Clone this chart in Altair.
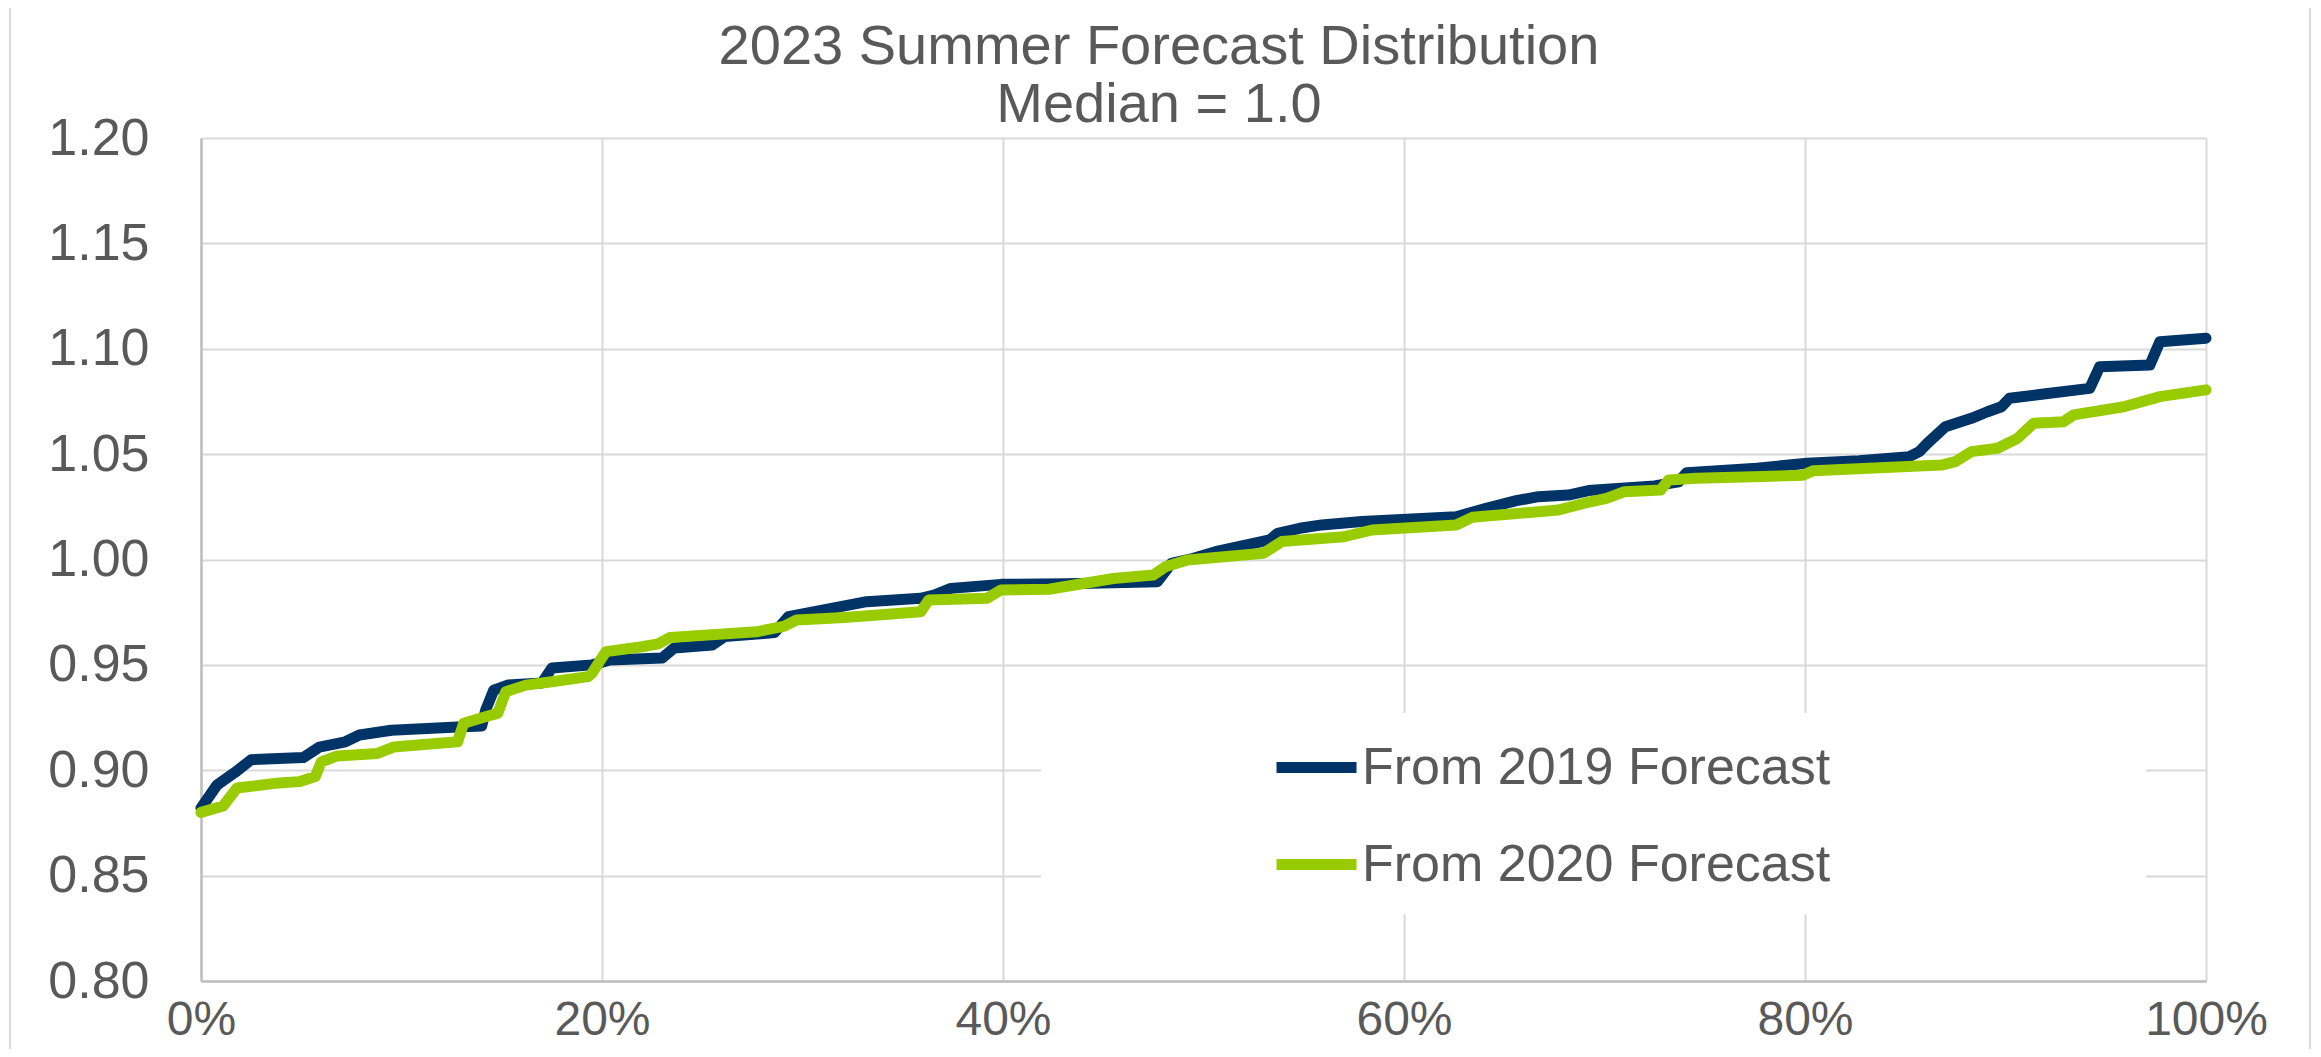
import altair as alt
import pandas as pd

# ---------------- data ----------------
series_names = ["From 2019 Forecast", "From 2020 Forecast"]
series_colors = ["#003366", "#99CC00"]

pct_2019 = [0.0, 0.8, 1.7, 2.5, 5.1, 5.9, 7.2, 7.9, 9.5, 12.8, 14.0, 14.2, 14.6,
            15.3, 17.0, 17.5, 19.5, 20.4, 23.0, 23.6, 25.5, 26.1, 28.6, 29.3,
            33.2, 35.9, 36.6, 37.4, 39.9, 43.2, 45.5, 47.7, 48.4, 49.5, 50.6,
            53.3, 53.7, 54.8, 55.9, 57.9, 59.9, 62.6, 64.1, 65.6, 66.7, 68.2,
            69.2, 72.5, 73.7, 74.1, 77.6, 80.1, 82.7, 85.2, 85.7, 86.1, 87.0,
            88.3, 89.1, 89.8, 90.2, 91.9, 94.2, 94.7, 97.2, 97.7, 100.0]
val_2019 = [0.882, 0.893, 0.899, 0.905, 0.906, 0.911, 0.9135, 0.9167, 0.919,
            0.9205, 0.921, 0.9286, 0.938, 0.9404, 0.9414, 0.9485, 0.950, 0.9523,
            0.9533, 0.958, 0.9594, 0.9634, 0.9653, 0.9729, 0.980, 0.9816, 0.9832,
            0.9863, 0.9882, 0.9885, 0.989, 0.9895, 0.9982, 1.0006, 1.0037,
            1.0093, 1.0124, 1.0148, 1.0164, 1.018, 1.019, 1.0203, 1.0243,
            1.0279, 1.0298, 1.0306, 1.0327, 1.0349, 1.0369, 1.0412, 1.0433,
            1.0457, 1.0469, 1.0488, 1.0512, 1.0551, 1.063, 1.067, 1.0701,
            1.0725, 1.0765, 1.0785, 1.0812, 1.0915, 1.0923, 1.1033, 1.105]

pct_2020 = [0.0, 1.1, 1.8, 3.9, 4.9, 5.7, 6.0, 6.8, 8.8, 9.6, 12.8, 13.1, 14.4,
            14.8, 15.2, 16.2, 17.5, 19.3, 19.5, 20.2, 22.0, 22.8, 23.4, 27.7,
            29.1, 29.7, 32.1, 35.9, 36.3, 39.2, 39.9, 42.3, 45.5, 47.5, 48.1,
            49.2, 53.0, 53.9, 57.0, 58.4, 62.6, 63.4, 67.7, 69.0, 70.1, 71.0,
            72.8, 73.2, 74.6, 79.9, 80.4, 86.8, 87.5, 88.3, 89.6, 90.6, 91.4,
            92.9, 93.4, 95.9, 97.7, 100.0]
val_2020 = [0.880, 0.883, 0.8916, 0.894, 0.8946, 0.897, 0.904, 0.9068, 0.908,
            0.911, 0.9135, 0.9223, 0.926, 0.927, 0.9373, 0.9404, 0.942, 0.9444,
            0.946, 0.9563, 0.9586, 0.960, 0.963, 0.9657, 0.9684, 0.9713, 0.9725,
            0.9752, 0.9808, 0.9816, 0.9855, 0.9859, 0.991, 0.9926, 0.9966,
            0.9998, 1.003, 1.0085, 1.0108, 1.014, 1.0164, 1.020, 1.0235, 1.0267,
            1.029, 1.0322, 1.033, 1.0377, 1.0385, 1.040, 1.0421, 1.0448, 1.0464,
            1.0512, 1.0528, 1.0575, 1.0646, 1.0654, 1.0686, 1.0725, 1.0773,
            1.0805]

x_ticks = [0, 20, 40, 60, 80, 100]
y_ticks = [0.80, 0.85, 0.90, 0.95, 1.00, 1.05, 1.10, 1.15, 1.20]
title_lines = ["2023 Summer Forecast Distribution", "Median = 1.0"]

# legend box (white patch hiding the gridlines), in data units
legend_box_x = [41.9, 97.0]
legend_box_y = [0.832, 0.927]

# ---------------- tables ----------------
df19 = pd.DataFrame({"pct": pct_2019, "value": val_2019, "series": series_names[0]})
df20 = pd.DataFrame({"pct": pct_2020, "value": val_2020, "series": series_names[1]})
title1_df = pd.DataFrame({"line": [title_lines[0]]})
title2_df = pd.DataFrame({"line": [title_lines[1]]})

# ---------------- style ----------------
W, H = 2005, 843
FONT = "Liberation Sans"
TEXT = "#595959"
GRID = "#d9d9d9"
LW = 11

x_scale = alt.Scale(domain=[0, 100], nice=False, zero=False)
y_scale = alt.Scale(domain=[0.8, 1.2], nice=False, zero=False)

x_enc = alt.X("pct:Q", scale=x_scale,
              axis=alt.Axis(values=x_ticks, labelExpr="datum.value + '%'", title=None,
                            grid=True, gridColor=GRID, gridWidth=2,
                            domain=True, domainColor="#bfbfbf", domainWidth=2.5,
                            ticks=False, tickSize=0, labelPadding=15,
                            labelFontSize=48, labelFont=FONT, labelColor=TEXT,
                            labelFlush=False, labelOverlap=False))
y_enc = alt.Y("value:Q", scale=y_scale,
              axis=alt.Axis(values=y_ticks, format=".2f", title=None,
                            grid=True, gridColor=GRID, gridWidth=2,
                            domain=True, domainColor="#bfbfbf", domainWidth=2.5,
                            ticks=False, tickSize=0, labelPadding=52,
                            labelFontSize=52, labelFont=FONT, labelColor=TEXT,
                            labelOverlap=False))

color_enc = alt.Color(
    "series:N",
    scale=alt.Scale(domain=series_names, range=series_colors),
    legend=alt.Legend(title=None, orient="none", legendX=1070, legendY=584,
                      symbolType="stroke", symbolSize=6400, symbolStrokeWidth=LW,
                      labelFontSize=52, labelFont=FONT, labelColor=TEXT,
                      labelOffset=0, rowPadding=25, padding=0, labelLimit=2000),
)

border = alt.Chart(df19).mark_rect(fillOpacity=0, stroke=GRID, strokeWidth=2).encode(
    x=alt.value(-191), x2=alt.value(2109), y=alt.value(-132), y2=alt.value(960)
)

title1 = alt.Chart(title1_df).mark_text(
    font=FONT, fontSize=56, color=TEXT, baseline="middle", align="center"
).encode(text="line:N", x=alt.value(958), y=alt.value(-91))
title2 = alt.Chart(title2_df).mark_text(
    font=FONT, fontSize=56, color=TEXT, baseline="middle", align="center"
).encode(text="line:N", x=alt.value(958), y=alt.value(-33))

legend_patch = alt.Chart(df19).mark_rect(fill="white").encode(
    x=alt.datum(legend_box_x[0]), x2=alt.datum(legend_box_x[1]),
    y=alt.datum(legend_box_y[0]), y2=alt.datum(legend_box_y[1]),
)

line19 = alt.Chart(df19).mark_line(strokeWidth=LW, strokeCap="round", strokeJoin="round").encode(
    x=x_enc, y=y_enc, color=color_enc, order="pct:Q")
line20 = alt.Chart(df20).mark_line(strokeWidth=LW, strokeCap="round", strokeJoin="round").encode(
    x=x_enc, y=y_enc, color=color_enc, order="pct:Q")

chart = alt.layer(border, legend_patch, line19, line20, title1, title2).properties(
    width=W, height=H,
    autosize=alt.AutoSizeParams(type="none"),
    padding={"left": 193, "top": 130, "right": 107, "bottom": 68},
).configure_view(stroke=GRID, strokeWidth=2).configure(background="white")

chart.save("out.html", embed_options={"renderer": "svg", "actions": False})
